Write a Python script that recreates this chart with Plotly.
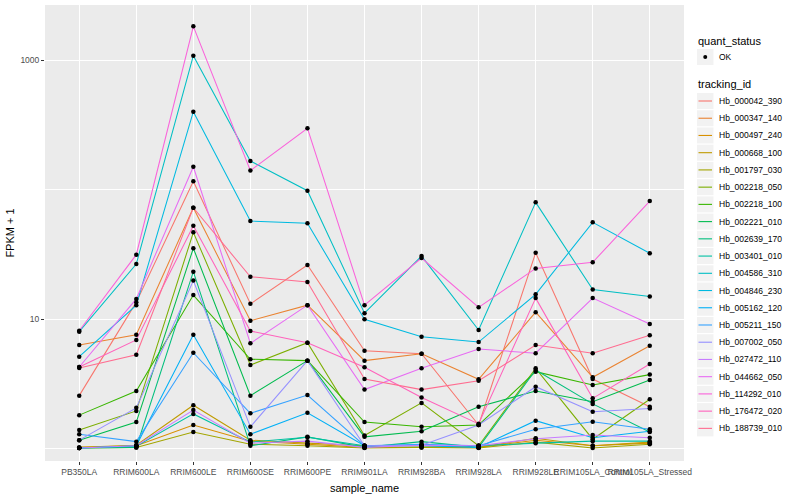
import plotly.graph_objects as go

samples = ["PB350LA", "RRIM600LA", "RRIM600LE", "RRIM600SE", "RRIM600PE", "RRIM901LA",
           "RRIM928BA", "RRIM928LA", "RRIM928LE", "RRIM105LA_Control", "RRIM105LA_Stressed"]

tracking_ids = ["Hb_000042_390", "Hb_000347_140", "Hb_000497_240", "Hb_000668_100", "Hb_001797_030",
                "Hb_002218_050", "Hb_002218_100", "Hb_002221_010", "Hb_002639_170", "Hb_003401_010",
                "Hb_004586_310", "Hb_004846_230", "Hb_005162_120", "Hb_005211_150", "Hb_007002_050",
                "Hb_027472_110", "Hb_044662_050", "Hb_114292_010", "Hb_176472_020", "Hb_188739_010"]

quant_status = ["OK"]

# FPKM + 1 values per gene, one value per sample
hb_000042_390 = [2.56, 13.5, 115.7, 13.1, 26.1, 5.69, 5.40, 1.52, 32.5, 3.44, 2.10]
hb_000347_140 = [6.30, 7.56, 72.3, 9.70, 12.8, 4.77, 5.40, 3.42, 11.3, 3.55, 6.22]
hb_000497_240 = [1.02, 1.05, 1.52, 1.14, 1.08, 1.02, 1.02, 1.02, 1.16, 1.05, 1.10]
hb_000668_100 = [1.02, 1.06, 2.16, 1.16, 1.10, 1.05, 1.05, 1.02, 1.20, 1.05, 1.12]
hb_001797_030 = [1.01, 1.02, 1.34, 1.08, 1.05, 1.01, 1.02, 1.01, 1.12, 1.01, 1.08]
hb_002218_050 = [1.39, 1.95, 46.7, 4.41, 6.56, 1.26, 2.25, 1.05, 4.16, 1.18, 2.40]
hb_002218_100 = [1.81, 2.78, 15.3, 4.89, 4.77, 1.60, 1.47, 1.52, 3.92, 3.09, 3.72]
hb_002221_010 = [1.16, 1.60, 35.2, 2.56, 4.77, 1.23, 1.36, 2.10, 2.78, 2.30, 3.38]
hb_002639_170 = [1.01, 1.02, 23.2, 1.05, 1.23, 1.02, 1.13, 1.02, 4.04, 2.21, 1.34]
hb_003401_010 = [1.01, 1.04, 1.85, 1.12, 1.22, 1.05, 1.06, 1.05, 1.10, 1.14, 1.14]
hb_004586_310 = [7.98, 26.6, 1080, 166, 97.9, 11.1, 30.6, 8.22, 79.6, 16.9, 14.9]
hb_004846_230 = [5.12, 12.8, 399, 57.1, 54.8, 9.95, 7.30, 6.64, 15.5, 55.8, 32.2]
hb_005162_120 = [1.01, 1.05, 7.56, 1.29, 1.89, 1.05, 1.05, 1.02, 1.64, 1.21, 1.36]
hb_005211_150 = [1.29, 1.13, 5.49, 1.87, 2.59, 1.05, 1.08, 1.05, 1.41, 1.61, 1.41]
hb_007002_050 = [1.16, 2.06, 19.8, 1.47, 4.77, 1.05, 1.06, 1.52, 3.00, 1.92, 2.04]
hb_027472_110 = [1.01, 1.05, 1.98, 1.10, 1.14, 1.02, 1.06, 1.05, 1.19, 1.27, 1.21]
hb_044662_050 = [4.26, 14.3, 150, 6.49, 12.8, 2.85, 4.16, 5.87, 5.44, 14.5, 9.15]
hb_114292_010 = [8.12, 31.4, 1820, 140, 297, 12.8, 29.6, 12.3, 24.6, 27.4, 81.5]
hb_176472_020 = [4.26, 6.89, 52.5, 8.08, 6.56, 4.24, 2.48, 1.55, 14.5, 2.44, 4.49]
hb_188739_010 = [4.19, 5.30, 72.3, 21.2, 19.3, 3.44, 2.85, 3.34, 6.30, 5.44, 7.48]

series_values = [hb_000042_390, hb_000347_140, hb_000497_240, hb_000668_100, hb_001797_030,
                 hb_002218_050, hb_002218_100, hb_002221_010, hb_002639_170, hb_003401_010,
                 hb_004586_310, hb_004846_230, hb_005162_120, hb_005211_150, hb_007002_050,
                 hb_027472_110, hb_044662_050, hb_114292_010, hb_176472_020, hb_188739_010]

colors = ["#F8766D", "#EA8331", "#D89000", "#C09B00", "#A3A500", "#7CAE00", "#39B600", "#00BB4E",
          "#00BF7D", "#00C1A3", "#00BFC4", "#00BAE0", "#00B0F6", "#35A2FF", "#9590FF", "#C77CFF",
          "#E76BF3", "#FA62DB", "#FF62BC", "#FF6C90"]

FONT = "Liberation Sans, Arial, Helvetica, sans-serif"
W, H = 800, 500
ML, MR, MT, MB = 45, 116, 5, 39
PW, PH = W - ML - MR, H - MT - MB


def px_x(px):
    return (px - ML) / PW


def px_y(py):
    return (H - MB - py) / PH


fig = go.Figure()

for i, (tid, vals) in enumerate(zip(tracking_ids, series_values)):
    fig.add_trace(go.Scatter(
        x=samples, y=vals, mode="lines", name=tid,
        line=dict(color=colors[i], width=1.05), showlegend=False,
    ))

all_x = [s for vals in series_values for s in samples]
all_y = [v for vals in series_values for v in vals]
fig.add_trace(go.Scatter(
    x=all_x, y=all_y, mode="markers", name=quant_status[0], showlegend=False,
    marker=dict(color="black", size=4.5, symbol="circle"),
    hoverinfo="skip",
))

# ---- legend drawn in ggplot style (keys with grey boxes) ----
shapes = []
annotations = []
key_l, key_r = 697, 713.5
key_step = 17.23
key_h = 16.0
text_x = 716.8


def key_box(cy):
    shapes.append(dict(type="rect", xref="paper", yref="paper",
                       x0=px_x(key_l), x1=px_x(key_r),
                       y0=px_y(cy + key_h / 2), y1=px_y(cy - key_h / 2),
                       fillcolor="#F2F2F2", line=dict(width=0), layer="above"))


def label(text, px, py, size, color="black"):
    annotations.append(dict(text=text, xref="paper", yref="paper", x=px_x(px), y=px_y(py),
                            xanchor="left", yanchor="middle", showarrow=False,
                            font=dict(size=size, color=color, family=FONT)))


label("quant_status", 695.5, 40.7, 11)
ok_cy = 57
key_box(ok_cy)
label(quant_status[0], text_x, ok_cy, 8.5)

label("tracking_id", 695.5, 84.3, 11)
for i, tid in enumerate(tracking_ids):
    cy = 101 + i * key_step
    key_box(cy)
    shapes.append(dict(type="line", xref="paper", yref="paper",
                       x0=px_x(key_l + 1.5), x1=px_x(key_r - 1.5),
                       y0=px_y(cy), y1=px_y(cy),
                       line=dict(color=colors[i], width=1.1), layer="above"))
    label(tid, text_x, cy, 8.5)

shapes.append(dict(type="circle", xref="paper", yref="paper",
                   x0=px_x((key_l + key_r) / 2 - 2), x1=px_x((key_l + key_r) / 2 + 2),
                   y0=px_y(ok_cy + 2), y1=px_y(ok_cy - 2),
                   fillcolor="black", line=dict(width=0), layer="above"))

fig.update_layout(
    width=W, height=H,
    paper_bgcolor="white", plot_bgcolor="#EBEBEB",
    margin=dict(l=ML, r=MR, t=MT, b=MB, autoexpand=False),
    font=dict(family=FONT, size=9, color="#4D4D4D"),
    showlegend=False,
    shapes=shapes, annotations=annotations,
    xaxis=dict(
        type="category", categoryorder="array", categoryarray=samples,
        range=[-0.6, 10.6], tickangle=0, automargin=False,
        showgrid=True, gridcolor="white", gridwidth=1.1,
        ticks="outside", ticklen=3, tickcolor="#333333", tickwidth=1,
        tickfont=dict(size=8.5, color="#4D4D4D"),
        title=dict(text="sample_name", font=dict(size=11, color="black"), standoff=8),
        zeroline=False, showline=False,
    ),
    yaxis=dict(
        type="log", range=[-0.0965, 3.425], automargin=False,
        tickvals=[10, 1000], ticktext=["10", "1000"],
        showgrid=True, gridcolor="white", gridwidth=1.1,
        minor=dict(tickvals=[1, 100], showgrid=True, gridcolor="white", gridwidth=0.5, ticks=""),
        ticks="outside", ticklen=3, tickcolor="#333333", tickwidth=1,
        tickfont=dict(size=8.5, color="#4D4D4D"),
        title=dict(text="FPKM + 1", font=dict(size=11, color="black"), standoff=3),
        zeroline=False, showline=False,
    ),
)

fig.write_html("out.html", config={"displayModeBar": False},
               post_script="document.body.style.margin='0px';")
